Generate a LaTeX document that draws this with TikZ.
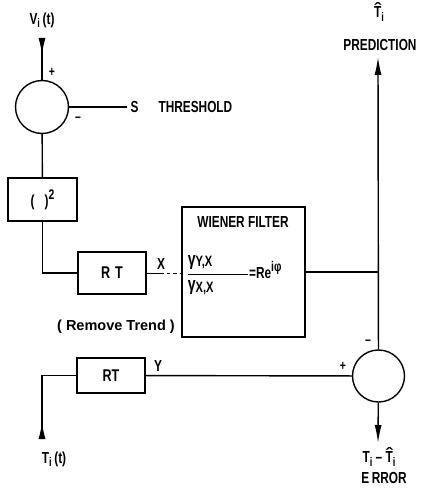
\documentclass[tikz,border=0pt]{standalone}
\usepackage{amsmath}
\usepackage{fontspec}
\setmainfont{Liberation Sans}[FakeStretch=0.74]
\newfontfamily\plainsans{Liberation Sans}
\usetikzlibrary{positioning,arrows.meta}
\newcommand\sbx[1]{\raisebox{-3.5pt}{\fontsize{12.5}{12}\selectfont #1}}
\newcommand\hatT{\ooalign{T\cr\hidewidth\raisebox{3.5pt}{\scalebox{1.7}[1]{ˆ}}\hidewidth\cr}}

\begin{document}
\begin{tikzpicture}[x=1pt, y=-1pt,
  font=\fontsize{16}{18}\selectfont\bfseries,
  line width=1.4pt,
  sumpt/.style={draw, circle, minimum size=53pt, inner sep=0pt},
  blk/.style={draw, inner sep=2pt},
  lbl/.style={inner sep=1pt},
  sgn/.style={font=\fontsize{14}{14}\selectfont\bfseries, inner sep=0pt},
  outarr/.style={-{Latex[length=18pt, width=7pt]}},
  inarr/.style={arrows={Latex[reversed, length=17pt, width=7pt]-}}]
\useasboundingbox (0,0) rectangle (421,492);
% threshold stage
\coordinate (vstart) at (42,38);
\node[lbl] (vin) at (42,20) {V\sbx{i}\,(t)};
\node[sumpt] (sum1) at (42,107) {};
\node[sgn] (p1) at (52,72) {+};
\node[sgn] (m1) at (78,119) {--};
\coordinate (send) at (127,107);
\node[lbl, right=2pt of send] (thr) {S\hspace{20pt}THRESHOLD};
\node[blk, minimum width=69pt, minimum height=43pt] (sq) at (42.5,199.5) {(\hspace{10pt})\raisebox{7pt}{\fontsize{14}{14}\selectfont 2}};
% remove trend
\node[blk, minimum width=68pt, minimum height=42pt, font=\fontsize{17}{18}\selectfont\bfseries] (rt1) at (112,273) {R\hspace{5pt}T};
\node[blk, minimum width=68pt, minimum height=35pt, font=\fontsize{17}{18}\selectfont\bfseries] (rt2) at (111,375.5) {RT};
\node[lbl, font=\plainsans\fontsize{14.5}{17}\selectfont\bfseries] (trend) at (116,327) {( Remove Trend )};
\node[lbl] (xl) at (161,264) {X};
\node[lbl] (yl) at (158,366) {Y};
% filter
\node[blk, minimum width=123pt, minimum height=130pt] (wf) at (243.5,272) {};
\node[lbl] (wname) at (243,222) {WIENER FILTER};
\node[anchor=west, inner sep=0pt] (ratio) at (186,275) {$\genfrac{}{}{1.5pt}{0}{\makebox[60pt][l]{\fontsize{19}{19}\selectfont γ\raisebox{-1pt}{\fontsize{15}{15}\selectfont Y,X}}}{\makebox[60pt][l]{\fontsize{19}{19}\selectfont γ\raisebox{-2pt}{\fontsize{15}{15}\selectfont X,X}}}\mbox{=Re\raisebox{7pt}{\fontsize{14}{14}\selectfont iφ}}$};
% error stage
\node[sumpt, minimum size=52pt] (sum2) at (378.5,376) {};
\node[sgn] (m2) at (368,342) {--};
\node[sgn] (p2) at (343,366) {+};
\node[lbl] (that) at (379,14) {\hatT\sbx{i}};
\node[lbl] (pred) at (380,45) {PREDICTION};
\coordinate (ptip) at (378,57);
\coordinate (etip) at (378,443);
\node[lbl] (diff) at (379,459) {T\sbx{i} -- \hatT\sbx{i}};
\node[lbl] (err) at (384,478) {E\,RROR};
\coordinate (tstart) at (42,439);
\node[lbl] (tin) at (54,459) {T\sbx{i}\,(t)};
% connections
\draw[inarr] (vstart) -- (sum1);
\draw (sum1) -- (send);
\draw (sum1) -- (sq);
\draw (sq) |- (rt1);
\draw[line width=1pt, dash pattern=on 17pt off 3pt on 3pt off 3pt on 4pt off 3pt] (rt1.east) -- (rt1.east -| wf.west);
\draw (wf.east) -- (wf.east -| sum2.north);
\draw[outarr] (sum2) -- (ptip);
\draw[inarr] (tstart) |- (rt2);
\draw (rt2) -- (sum2);
\draw[outarr] (sum2) -- (etip);
\end{tikzpicture}
\end{document}
